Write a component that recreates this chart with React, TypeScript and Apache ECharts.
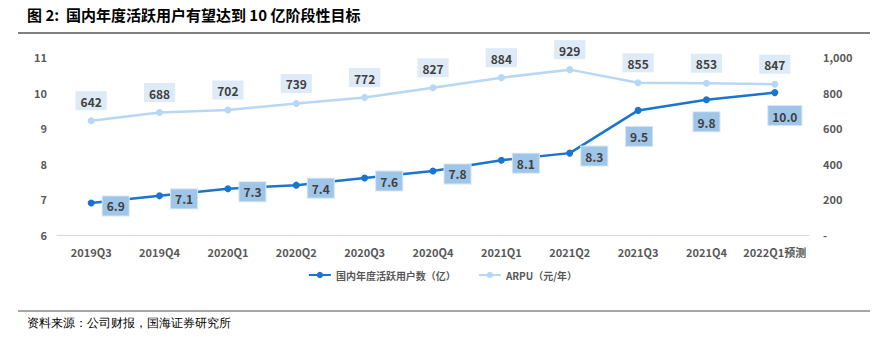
import React, { useEffect, useRef } from "react";
import * as echarts from "echarts";

const categories = ["2019Q3", "2019Q4", "2020Q1", "2020Q2", "2020Q3", "2020Q4", "2021Q1", "2021Q2", "2021Q3", "2021Q4", "2022Q1预测"];
const users = [6.9, 7.1, 7.3, 7.4, 7.6, 7.8, 8.1, 8.3, 9.5, 9.8, 10.0];
const arpu = [642, 688, 702, 739, 772, 827, 884, 929, 855, 853, 847];
const leftTicks = [6, 7, 8, 9, 10, 11];
const rightTicks = [0, 200, 400, 600, 800, 1000];

const FONT = "'Noto Sans CJK SC', 'Noto Sans', sans-serif";

export default function App() {
  const ref = useRef<HTMLDivElement>(null);
  useEffect(() => {
    if (!ref.current) return;
    const chart = echarts.init(ref.current, undefined, { renderer: "svg" });
    const userData = users.map((v, i) => {
      if (i >= 8) {
        return {
          value: v,
          label: {
            position: "bottom",
            offset: i === 10 ? [10, 5] : i === 8 ? [1, 8] : [0, 4],
          },
        };
      }
      return { value: v };
    });
    chart.setOption({
      animation: false,
      textStyle: { fontFamily: FONT },
      grid: { left: 57, right: 76, top: 57, bottom: 102 },
      legend: {
        bottom: 52,
        left: "center",
        itemWidth: 22,
        itemHeight: 8,
        itemGap: 22,
        textStyle: { fontSize: 10, color: "#595959", fontFamily: FONT, fontWeight: 600 },
        data: ["国内年度活跃用户数（亿）", "ARPU（元/年）"],
      },
      xAxis: {
        type: "category",
        data: categories,
        axisLine: { lineStyle: { color: "#d9d9d9" } },
        axisTick: { show: false },
        axisLabel: { color: "#595959", fontSize: 11, margin: 11, interval: 0, fontWeight: 600 },
      },
      yAxis: [
        {
          type: "value",
          min: leftTicks[0],
          max: leftTicks[leftTicks.length - 1],
          interval: 1,
          splitLine: { show: false },
          axisLine: { show: false },
          axisTick: { show: false },
          axisLabel: { color: "#595959", fontSize: 11, margin: 10, fontWeight: 600 },
        },
        {
          type: "value",
          min: rightTicks[0],
          max: rightTicks[rightTicks.length - 1],
          interval: 200,
          splitLine: { show: false },
          axisLine: { show: false },
          axisTick: { show: false },
          axisLabel: {
            color: "#595959",
            fontSize: 11,
            margin: 14,
            fontWeight: 600,
            formatter: (v: number) => (v === 0 ? "-" : v.toLocaleString("en-US")),
          },
        },
      ],
      series: [
        {
          name: "国内年度活跃用户数（亿）",
          type: "line",
          yAxisIndex: 0,
          data: userData,
          symbol: "circle",
          symbolSize: 7,
          lineStyle: { width: 2.5, color: "#1a75cf" },
          itemStyle: { color: "#1a75cf" },
          label: {
            show: true,
            position: "right",
            offset: [3, 3],
            formatter: (p: any) => Number(p.value).toFixed(1),
            backgroundColor: "#9fc5e8",
            borderColor: "#d6e6f5",
            borderWidth: 1,
            padding: [4, 4, 3, 4],
            color: "#404040",
            fontSize: 12,
            fontWeight: 600,
            fontFamily: FONT,
          },
          z: 3,
        },
        {
          name: "ARPU（元/年）",
          type: "line",
          yAxisIndex: 1,
          data: arpu,
          symbol: "circle",
          symbolSize: 7,
          lineStyle: { width: 2.5, color: "#b7d7f6" },
          itemStyle: { color: "#b7d7f6" },
          label: {
            show: true,
            position: "top",
            distance: 7,
            backgroundColor: "#deebf7",
            padding: [4, 5, 3, 5],
            color: "#404040",
            fontSize: 12,
            fontWeight: 600,
            fontFamily: FONT,
          },
          z: 2,
        },
      ],
      graphic: [
        {
          type: "text",
          left: 27,
          top: 7,
          style: {
            text: "图 2:  国内年度活跃用户有望达到 10 亿阶段性目标",
            fontSize: 15,
            fontWeight: "bold",
            fill: "#000",
            fontFamily: FONT,
          },
        },
        {
          type: "line",
          shape: { x1: 18, y1: 33, x2: 870, y2: 33 },
          style: { stroke: "#555", lineWidth: 1.5 },
        },
        {
          type: "line",
          shape: { x1: 18, y1: 311, x2: 870, y2: 311 },
          style: { stroke: "#888", lineWidth: 1.5 },
        },
        {
          type: "text",
          left: 27,
          top: 317,
          style: {
            text: "资料来源：公司财报，国海证券研究所",
            fontSize: 12,
            fill: "#000",
            fontFamily: "'DejaVu Serif', serif",
          },
        },
      ],
    });
    return () => chart.dispose();
  }, []);
  return <div ref={ref} style={{ width: 885, height: 337, position: "absolute", left: 0, top: 0 }} />;
}
